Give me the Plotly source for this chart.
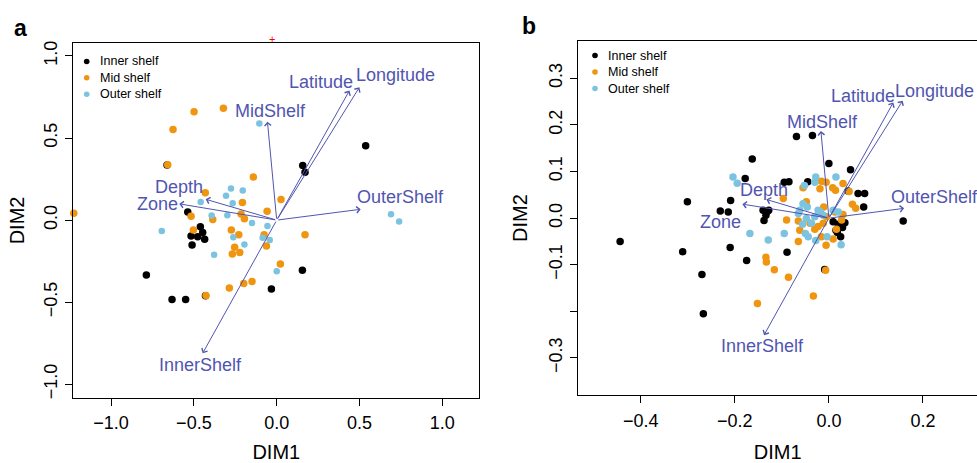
import plotly.graph_objects as go

# ---------------- Panel a : point scores ----------------
a_inner_x = [0.537, 0.157, 0.171, -0.537, -0.461, -0.517, -0.477, -0.447, -0.435, -0.511,
             -0.787, -0.632, -0.550, -0.032, 0.155, -0.662, -0.430]
a_inner_y = [0.453, 0.332, 0.292, 0.050, -0.040, -0.097, -0.101, -0.076, -0.117, -0.151,
             -0.334, -0.483, -0.483, -0.419, -0.306, 0.336, -0.461]
a_mid_x = [-1.225, -0.499, -0.322, -0.626, -0.658, -0.141, -0.431, 0.026, -0.207, -0.517,
           -0.386, -0.215, -0.195, -0.058, -0.503, -0.274, -0.229, -0.076, -0.062, 0.171,
           -0.254, -0.268, -0.223, 0.022, -0.286, -0.199, -0.149, -0.427]
a_mid_y = [0.042, 0.660, 0.682, 0.552, 0.338, 0.262, 0.167, 0.125, 0.107, 0.024,
           0.004, 0.038, 0.008, 0.054, -0.060, -0.060, -0.089, -0.089, -0.157, -0.089,
           -0.165, -0.207, -0.197, -0.268, -0.413, -0.386, -0.374, -0.459]
a_outer_x = [-0.105, -0.276, -0.205, -0.306, -0.266, -0.459, -0.393, -0.298, -0.149, -0.056,
             -0.694, -0.262, -0.085, -0.042, -0.195, -0.378, 0.000, 0.690, 0.739]
a_outer_y = [0.588, 0.193, 0.181, 0.149, 0.103, 0.111, 0.028, 0.030, -0.018, -0.036,
             -0.066, -0.105, -0.107, -0.121, -0.149, -0.211, -0.312, 0.036, -0.008]
# stray red "+" printed just above panel a's frame
a_extra_x = [-0.028]
a_extra_y = [1.105]

# ---------------- Panel b : point scores ----------------
b_inner_x = [-0.444, -0.311, -0.301, -0.270, -0.267, -0.231, -0.214, -0.209, -0.210, -0.178,
             -0.163, -0.175, -0.140, -0.131, -0.128, -0.134, -0.138, -0.095, -0.085, -0.089,
             -0.069, -0.035, -0.045, 0.000, 0.046, 0.041, 0.062, 0.076, 0.074, 0.158,
             0.009, 0.020, 0.034, 0.029, 0.015, 0.025, 0.018, -0.009]
b_inner_y = [-0.050, -0.072, 0.035, -0.121, -0.205, 0.015, 0.013, 0.038, -0.063, 0.085,
             0.127, -0.091, 0.017, 0.014, 0.017, 0.006, -0.005, 0.077, 0.078, -0.073,
             0.175, 0.177, 0.078, 0.117, 0.104, 0.058, 0.053, 0.053, 0.024, -0.006,
             -0.008, -0.013, -0.010, -0.020, -0.026, -0.040, -0.031, -0.110]
b_mid_x = [-0.152, -0.134, -0.133, -0.116, -0.086, -0.033, -0.007, -0.097, -0.090, -0.065,
           -0.062, -0.065, -0.006, -0.055, -0.019, -0.016, -0.006, 0.008, 0.014, 0.030,
           0.043, 0.050, 0.057, -0.048, -0.011, -0.040, -0.030, -0.023, -0.012, 0.013,
           0.030, 0.027, 0.016, 0.009, -0.005, -0.016]
b_mid_y = [-0.183, -0.084, -0.094, -0.111, -0.127, -0.167, -0.112, 0.042, -0.004, -0.006,
           -0.026, -0.050, -0.058, 0.065, 0.063, 0.079, 0.077, 0.065, 0.060, 0.074,
           0.057, 0.030, 0.021, 0.035, 0.024, -0.011, -0.024, -0.018, -0.011, 0.013,
           0.008, -0.004, -0.024, -0.045, 0.003, -0.040]
b_outer_x = [-0.204, -0.195, -0.168, -0.129, -0.095, -0.052, -0.030, -0.028, 0.015, -0.055,
             -0.046, -0.062, -0.065, -0.023, -0.018, -0.030, -0.048, -0.037, -0.056, -0.050,
             -0.044, -0.028, -0.004, 0.020, 0.026, 0.009, -0.012]
b_outer_y = [0.088, 0.075, -0.033, -0.047, -0.033, 0.070, 0.077, 0.088, 0.088, 0.031,
             0.024, 0.017, 0.010, 0.017, 0.013, 0.003, -0.001, -0.011, -0.013, -0.033,
             -0.040, -0.048, -0.040, 0.013, -0.057, 0.017, 0.006]

# ---------------- Environmental vectors ----------------
vec_names = ["Latitude", "Longitude", "MidShelf", "OuterShelf", "Depth", "Zone", "InnerShelf"]
a_vec_x = [0.439, 0.499, -0.056, 0.507, -0.429, -0.588, -0.447]
a_vec_y = [0.789, 0.809, 0.600, 0.066, 0.127, 0.099, -0.811]
b_vec_x = [0.137, 0.157, -0.017, 0.160, -0.133, -0.184, -0.138]
b_vec_y = [0.248, 0.252, 0.187, 0.021, 0.040, 0.030, -0.251]

group_names = ["Inner shelf", "Mid shelf", "Outer shelf"]
a_ticks = [-1.0, -0.5, 0.0, 0.5, 1.0]
a_ticktext = ["−1.0", "−0.5", "0.0", "0.5", "1.0"]
b_xticks = [-0.4, -0.2, 0.0, 0.2]
b_xticktext = ["−0.4", "−0.2", "0.0", "0.2"]
b_yticks = [-0.3, -0.2, -0.1, 0.0, 0.1, 0.2, 0.3]
b_yticktext = ["−0.3", "", "−0.1", "0.0", "0.1", "0.2", "0.3"]

# ---------------- styles ----------------
FONT = "Liberation Sans, Arial, Helvetica, sans-serif"
COL_INNER = "#000000"
COL_MID = "#F0950F"
COL_OUTER = "#7CC3DF"
group_colors = [COL_INNER, COL_MID, COL_OUTER]
VEC_COL = "#5055B0"
W, H = 977, 463

A_XRANGE = [-1.228, 1.223]
A_YRANGE = [-1.081, 1.077]
A_DOM_X = [73.3 / W, 479.3 / W]
A_DOM_Y = [1 - 399 / H, 1 - 41.7 / H]

# label offsets (pixels) relative to vector tips
a_lab_shift = [(-28.7, 8.7), (35.7, 12.7), (3.3, 10.7), (39.3, 12.3), (-26.3, 12.3), (-22, 0), (-1.7, -11.3)]
b_lab_shift = [(-30.7, 6.7), (31.3, 9.3), (1.3, 9.3), (30.7, 11), (-2.3, 9), (-21.7, -18.3), (-1.3, -10.7)]

fig = go.Figure()

def add_points(xs, ys, name, color, size, xa, ya):
    fig.add_trace(go.Scatter(
        x=xs, y=ys, mode="markers", name=name,
        marker=dict(color=color, size=size, line=dict(width=0)),
        xaxis=xa, yaxis=ya, showlegend=False, cliponaxis=False))

add_points(a_inner_x, a_inner_y, group_names[0], COL_INNER, 7.5, "x", "y")
add_points(a_mid_x, a_mid_y, group_names[1], COL_MID, 7.5, "x", "y")
add_points(a_outer_x, a_outer_y, group_names[2], COL_OUTER, 6.5, "x", "y")

add_points(b_inner_x, b_inner_y, group_names[0], COL_INNER, 7.5, "x2", "y2")
add_points(b_mid_x, b_mid_y, group_names[1], COL_MID, 7.5, "x2", "y2")
add_points(b_outer_x, b_outer_y, group_names[2], COL_OUTER, 7.5, "x2", "y2")

annotations = []
shapes = []
for names, vx, vy, shifts, xr, yr in [(vec_names, a_vec_x, a_vec_y, a_lab_shift, "x", "y"),
                                        (vec_names, b_vec_x, b_vec_y, b_lab_shift, "x2", "y2")]:
    for n, x, y, (dx, dy) in zip(names, vx, vy, shifts):
        annotations.append(dict(x=x, y=y, ax=0, ay=0, xref=xr, yref=yr, axref=xr, ayref=yr,
                                text="", showarrow=True, arrowhead=4, arrowsize=1.25,
                                arrowwidth=1, arrowcolor=VEC_COL, standoff=0))
        annotations.append(dict(x=x, y=y, xref=xr, yref=yr, text=n, showarrow=False,
                                xanchor="center", yanchor="middle", xshift=dx, yshift=dy,
                                font=dict(family=FONT, size=18, color=VEC_COL)))

# stray red cross above the frame: anchored at the top of the y range and lifted
# by the remaining distance converted to pixels (annotations outside the range are hidden)
a_px_per_unit = (A_DOM_Y[1] - A_DOM_Y[0]) * H / (A_YRANGE[1] - A_YRANGE[0])
for x, y in zip(a_extra_x, a_extra_y):
    y_in = min(y, A_YRANGE[1] - 0.001)
    annotations.append(dict(x=x, y=y_in, xref="x", yref="y", text="+", showarrow=False,
                            xanchor="center", yanchor="middle",
                            yshift=(y - y_in) * a_px_per_unit,
                            font=dict(family=FONT, size=11, color="red")))

# manual legends (key dot + label), placed in pixels
legend_layout = [(86.7, [60.0, 76.5, 93.0], 97.5), (595.0, [54.0, 70.7, 87.3], 605.5)]
for dot_x, rows, text_x in legend_layout:
    for name, col, ry in zip(group_names, group_colors, rows):
        r = 2.8
        shapes.append(dict(type="circle", xref="paper", yref="paper",
                           x0=(dot_x - r) / W, x1=(dot_x + r) / W,
                           y0=1 - (ry + r) / H, y1=1 - (ry - r) / H,
                           fillcolor=col, line=dict(width=0)))
        annotations.append(dict(x=text_x / W, y=1 - ry / H, xref="paper", yref="paper",
                                text=name, showarrow=False, xanchor="left", yanchor="middle",
                                font=dict(family=FONT, size=12.5, color="black")))

annotations.append(dict(x=20.5 / W, y=1 - 26 / H, xref="paper", yref="paper", text="<b>a</b>",
                        showarrow=False, font=dict(family=FONT, size=23, color="black"),
                        xanchor="center", yanchor="middle"))
annotations.append(dict(x=529 / W, y=1 - 24 / H, xref="paper", yref="paper", text="<b>b</b>",
                        showarrow=False, font=dict(family=FONT, size=23, color="black"),
                        xanchor="center", yanchor="middle"))

axis_common = dict(showgrid=False, zeroline=False, showline=True, linecolor="black", linewidth=1,
                   ticks="outside", ticklen=7, tickwidth=1, tickcolor="black",
                   tickfont=dict(family=FONT, size=18, color="black"))
title_font = dict(family=FONT, size=20, color="black")

fig.update_layout(
    width=W, height=H,
    margin=dict(l=0, r=0, t=0, b=0),
    paper_bgcolor="white", plot_bgcolor="white",
    font=dict(family=FONT, color="black"),
    showlegend=False,
    annotations=annotations, shapes=shapes,
    xaxis=dict(domain=A_DOM_X, range=A_XRANGE,
               tickvals=a_ticks, ticktext=a_ticktext, mirror=True, ticklabelstandoff=2,
               title=dict(text="DIM1", font=title_font, standoff=16),
               anchor="y", **axis_common),
    yaxis=dict(domain=A_DOM_Y, range=A_YRANGE,
               tickvals=a_ticks, ticktext=a_ticktext, tickangle=-90, mirror=True,
               ticklabelstandoff=1,
               title=dict(text="DIM2", font=title_font, standoff=11),
               anchor="x", **axis_common),
    xaxis2=dict(domain=[578.3 / W, 1.0], range=[-0.533, 0.315],
                tickvals=b_xticks, ticktext=b_xticktext, mirror=True, ticklabelstandoff=2,
                title=dict(text="DIM1", font=title_font, standoff=16),
                anchor="y2", **axis_common),
    yaxis2=dict(domain=[1 - 396.7 / H, 1 - 39.3 / H], range=[-0.38, 0.38],
                tickvals=b_yticks, ticktext=b_yticktext, tickangle=-90, mirror=False,
                ticklabelstandoff=1,
                title=dict(text="DIM2", font=title_font, standoff=13),
                anchor="x2", **axis_common),
)

fig.write_html("out.html", config={"displayModeBar": False},
               post_script="document.body.style.margin='0';document.body.style.overflow='hidden';")
